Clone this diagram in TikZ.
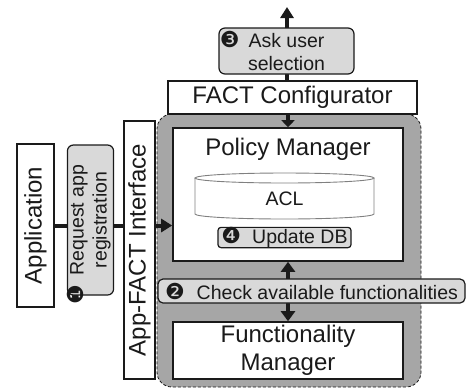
\documentclass[tikz,border=0pt]{standalone}
\usepackage{fontspec}
\setmainfont{Liberation Sans}
\newfontfamily\dvfont{DejaVu Sans}
\usepackage{graphicx}
\usetikzlibrary{arrows.meta}
\definecolor{lgray}{HTML}{D9D9D9}
\definecolor{mgray}{HTML}{A6A6A6}
\definecolor{ink}{HTML}{1A1A1A}
\definecolor{cylgray}{HTML}{808080}
\newcommand\bigf{\fontsize{24bp}{27.6bp}\selectfont}
\newcommand\smallf{\fontsize{19.5bp}{23bp}\selectfont}
\newcommand\bul[1]{{\dvfont\fontsize{22bp}{22bp}\selectfont #1}}
\begin{document}
\begin{tikzpicture}[x=1bp,y=-1bp,
  box/.style={draw=ink, line width=1.2bp, fill=white, inner sep=0pt, text=ink},
  graybox/.style={box, fill=lgray, rounded corners=5bp},
  arr/.style={draw=ink, line width=4bp, -{Triangle[length=11bp,width=13bp]}},
  shortarr/.style={draw=ink, line width=4bp, -{Triangle[length=7bp,width=13bp]}},
  darr/.style={draw=ink, line width=4bp, {Triangle[length=10bp,width=14bp]}-{Triangle[length=10bp,width=14bp]}},
  cylline/.style={draw=cylgray, line width=0.9bp},
]
\useasboundingbox (0,0) rectangle (466,389);

\node[draw=ink, dash pattern=on 3bp off 2bp, line width=0.8bp, fill=mgray, rounded corners=15bp, minimum width=264bp, minimum height=273bp, inner sep=0pt] (outer) at (289,250.5) {};

\node[box, line width=1.6bp, minimum width=230bp, minimum height=133bp] (policy) at (288,194.5) {};
\node[anchor=base, inner sep=0pt, text=ink, font=\bigf] (pmtitle) at (288,155) {Policy Manager};
\node[box, line width=1.6bp, minimum width=230bp, minimum height=57bp, align=center, font=\bigf] (func) at (288,350.5) {Functionality\\Manager};
\node[box, minimum width=249bp, minimum height=33bp, font=\bigf] (cfg) at (292.5,97.5) {FACT Configurator};
\node[box, minimum width=37bp, minimum height=163bp] (app) at (35.5,225.5) {\rotatebox{90}{\bigf Application}};
\coordinate (topc) at (287,7);

\draw[arr] (topc |- cfg.north) -- (topc);
\draw[shortarr] (cfg.south -| policy.north) -- (policy.north);
\draw[arr] (app.east) -- (app.east -| policy.west);
\draw[darr] (policy.south) -- (func.north);

% ACL cylinder
\fill[white] (195,178) rectangle (374,214);
\fill[white] (284.5,214) ellipse [x radius=89.5, y radius=5];
\draw[cylline] (195,178) -- (195,214) arc[start angle=180, end angle=0, x radius=89.5, y radius=5] -- (374,178);
\draw[cylline, fill=white] (284.5,178) ellipse [x radius=89.5, y radius=5];
\node[inner sep=0pt, font=\smallf, text=ink] (acl) at (284.5,199) {ACL};

\node[graybox, rounded corners=3bp, minimum width=133bp, minimum height=19bp, font=\smallf] (upd) at (284.5,237.5) {\bul{❹}\hspace{11bp}Update DB};
\node[graybox, rounded corners=6bp, minimum width=135bp, minimum height=46bp, align=center, font=\smallf] (ask) at (286.5,51) {\llap{\bul{❸}\hspace{9bp}}Ask user\\selection};
\node[graybox, minimum width=307bp, minimum height=24bp, font=\smallf] (chk) at (311.5,291) {\bul{❷}\hspace{12bp}Check available functionalities};
\node[graybox, rounded corners=6bp, minimum width=45bp, minimum height=150bp] (req) at (90.5,220) {\rotatebox{90}{\smallf\begin{tabular}{@{}c@{}}\llap{\bul{❶}\hspace{9bp}}Request app\\registration\end{tabular}}};
\node[box, minimum width=31bp, minimum height=258bp] (iface) at (139.5,250) {\rotatebox{90}{\bigf App-FACT Interface}};
\end{tikzpicture}
\end{document}
